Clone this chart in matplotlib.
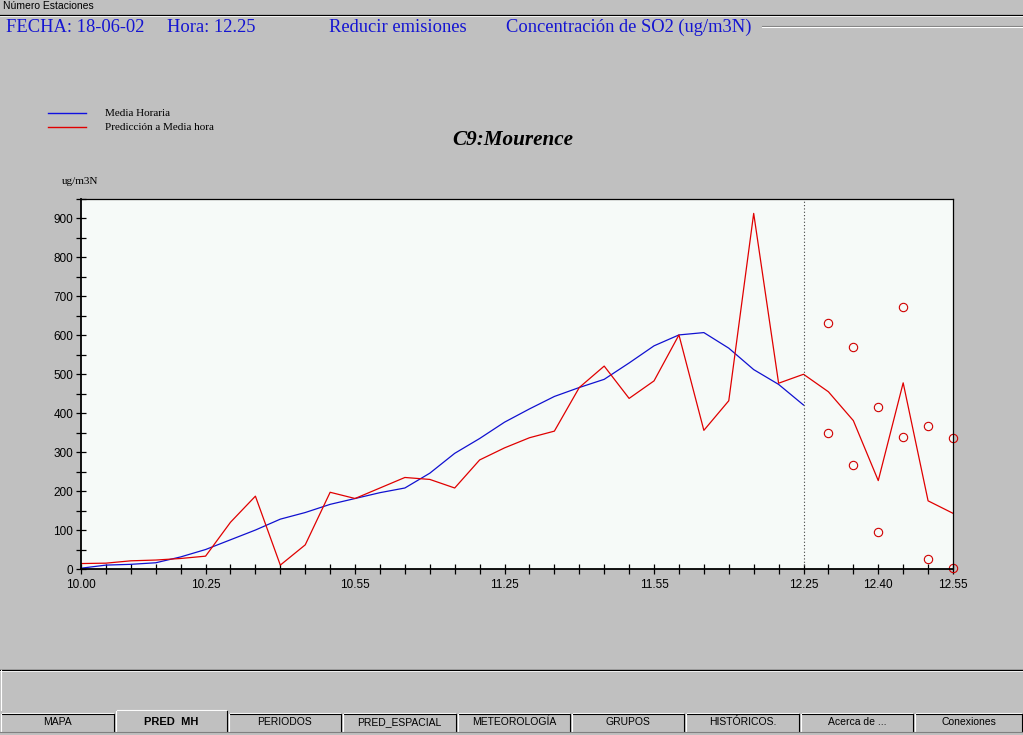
import numpy as np
import matplotlib
matplotlib.use("Agg")
import matplotlib.pyplot as plt
from matplotlib.lines import Line2D
from matplotlib.patches import Rectangle

# ---------------- data ----------------
times = ["10.00", "10.05", "10.10", "10.15", "10.20", "10.25", "10.30", "10.35", "10.40",
         "10.45", "10.50", "10.55", "11.00", "11.05", "11.10", "11.15", "11.20", "11.25",
         "11.30", "11.35", "11.40", "11.45", "11.50", "11.55", "12.00", "12.05", "12.10",
         "12.15", "12.20", "12.25", "12.30", "12.35", "12.40", "12.45", "12.50", "12.55"]
media_horaria = [2, 10, 12, 16, 31, 50, 75, 100, 128, 145, 166, 181, 196, 208, 246, 297,
                 335, 377, 411, 443, 466, 487, 529, 573, 601, 607, 567, 512, 474, 421]
prediccion = [14, 15, 21, 23, 27, 33, 120, 187, 10, 62, 197, 181, 208, 235, 230, 208,
              280, 311, 337, 354, 466, 521, 438, 483, 601, 356, 432, 913, 477, 500,
              455, 381, 227, 478, 175, 143]
band_times = ["12.30", "12.35", "12.40", "12.45", "12.50", "12.55"]
band_upper = [632, 570, 415, 673, 366, 337]
band_lower = [349, 266, 96, 339, 25, 2]
xtick_labels = ["10.00", "10.25", "10.55", "11.25", "11.55", "12.25", "12.40", "12.55"]
current_time = "12.25"
yticks = [0, 100, 200, 300, 400, 500, 600, 700, 800, 900]
tabs = ["MAPA", "PRED_MH", "PERIODOS", "PRED_ESPACIAL", "METEOROLOGÍA", "GRUPOS",
        "HISTÓRICOS.", "Acerca de ...", "Conexiones"]


def tpos(s):
    h, m = s.split(".")
    return (int(h) * 60 + int(m) - 600) / 5.0


W, H = 1023, 735
BG = "#c0c0c0"
fig = plt.figure(figsize=(W / 100, H / 100), dpi=100, facecolor=BG)


def fx(x):
    return x / W


def fy(y):
    return 1 - y / H


def hline(x0, x1, y, color, lw=1.0):
    fig.add_artist(Line2D([fx(x0), fx(x1)], [fy(y), fy(y)], color=color, lw=lw,
                          transform=fig.transFigure))


def vline(x, y0, y1, color, lw=1.0):
    fig.add_artist(Line2D([fx(x), fx(x)], [fy(y0), fy(y1)], color=color, lw=lw,
                          transform=fig.transFigure))


serif = ["Liberation Serif", "DejaVu Serif"]
sans = ["Liberation Sans", "DejaVu Sans"]

# ---------------- header ----------------
fig.text(fx(3), fy(6), "Número Estaciones", fontsize=7.5, family=sans, va="center", ha="left")
hline(0, W, 14.5, "#000000", 0.9)
hline(0, W, 15.5, "#ffffff", 0.6)
blue = "#1414d2"
hsize = 13.3
hy = 27.5
fig.text(fx(6), fy(hy), "FECHA: 18-06-02", fontsize=hsize, family=serif, color=blue, va="center")
fig.text(fx(167), fy(hy), "Hora: 12.25", fontsize=hsize, family=serif, color=blue, va="center")
fig.text(fx(329), fy(hy), "Reducir emisiones", fontsize=hsize, family=serif, color=blue,
         va="center")
fig.text(fx(506), fy(hy), "Concentración de SO2 (ug/m3N)", fontsize=hsize, family=serif,
         color=blue, va="center")
hline(762, W, 25.5, "#808080", 0.8)
hline(762, W, 26.5, "#ffffff", 0.8)

# legend
hline(48, 86, 113, "#1010e0", 1.0)
hline(48, 86, 127, "#e00000", 1.0)
fig.text(fx(105), fy(113), "Media Horaria", fontsize=8, family=serif, va="center")
fig.text(fx(105), fy(127), "Predicción a Media hora", fontsize=8, family=serif, va="center")

# title and unit
fig.text(fx(513), fy(140), "C9:Mourence", fontsize=15.2, family=serif, weight="bold",
         style="italic", ha="center", va="center")
fig.text(fx(62), fy(181), "ug/m3N", fontsize=8, family=serif, va="center")

# ---------------- axes ----------------
ax = fig.add_axes([fx(81), fy(569), fx(953) - fx(81), (569 - 199) / H])
ax.set_facecolor("#f6faf8")
xi_m = [tpos(t) for t in times[:len(media_horaria)]]
xi_p = [tpos(t) for t in times[:len(prediccion)]]
ax.plot(xi_m, media_horaria, color="#1010d0", lw=0.9)
ax.plot(xi_p, prediccion, color="#e00000", lw=0.9)
bx = [tpos(t) for t in band_times]
ax.plot(bx, band_upper, ls="none", marker="o", ms=6, mfc="none", mec="#d00000", mew=0.8,
        clip_on=False)
ax.plot(bx, band_lower, ls="none", marker="o", ms=6, mfc="none", mec="#d00000", mew=0.8,
        clip_on=False)
ax.axvline(tpos(current_time), color="#404040", lw=0.8, ls=(0, (1, 2)))

ax.set_xlim(tpos(times[0]), tpos(times[-1]))
ax.set_ylim(0, 936)
ax.set_xticks([tpos(t) for t in times], minor=True)
ax.set_xticks([tpos(t) for t in xtick_labels])
ax.set_xticklabels(xtick_labels)
ax.set_yticks(yticks)
ax.set_yticks([v + 50 for v in yticks], minor=True)
ax.tick_params(axis="both", which="both", direction="inout", length=7, width=0.9,
               labelsize=8.5, colors="black", pad=2)
ax.tick_params(axis="x", which="major", pad=4)
for lab in ax.get_xticklabels() + ax.get_yticklabels():
    lab.set_family(sans)
for side in ["left", "bottom"]:
    ax.spines[side].set_linewidth(1.3)
for side in ["top", "right"]:
    ax.spines[side].set_linewidth(0.9)

# ---------------- bottom panel & tabs ----------------
hline(0, W, 670, "#000000", 1.0)
hline(0, W, 671, "#ffffff", 0.6)
vline(1, 670, 710, "#ffffff", 0.8)
tab_edges = [0, 115, 228, 342, 457, 571, 685, 800, 914, 1023]
for i, name in enumerate(tabs):
    x0, x1 = tab_edges[i], tab_edges[i + 1]
    sel = (name == "PRED_MH")
    top = 710 if sel else 713
    fig.add_artist(Rectangle((fx(x0 + 1), fy(731)), fx(x1 - x0 - 2), (731 - top) / H,
                             transform=fig.transFigure, facecolor=BG,
                             edgecolor="none"))
    hline(x0 + 2, x1 - 2, top, "#ffffff", 0.8)
    hline(x0 + 2, x1 - 2, top + 1, "#000000" if not sel else BG, 0.8)
    vline(x0 + 1, top + 1, 731, "#ffffff", 0.8)
    vline(x1 - 1, top + 1, 731, "#000000", 0.8)
    label = "PRED  MH" if sel else name
    fig.text(fx((x0 + x1) / 2), fy(722), label, fontsize=7.5 if not sel else 8,
             family=sans, weight="bold" if sel else "normal", ha="center", va="center")
hline(0, W, 732, "#808080", 0.8)

fig.savefig("out.png", dpi=100, facecolor=BG)
